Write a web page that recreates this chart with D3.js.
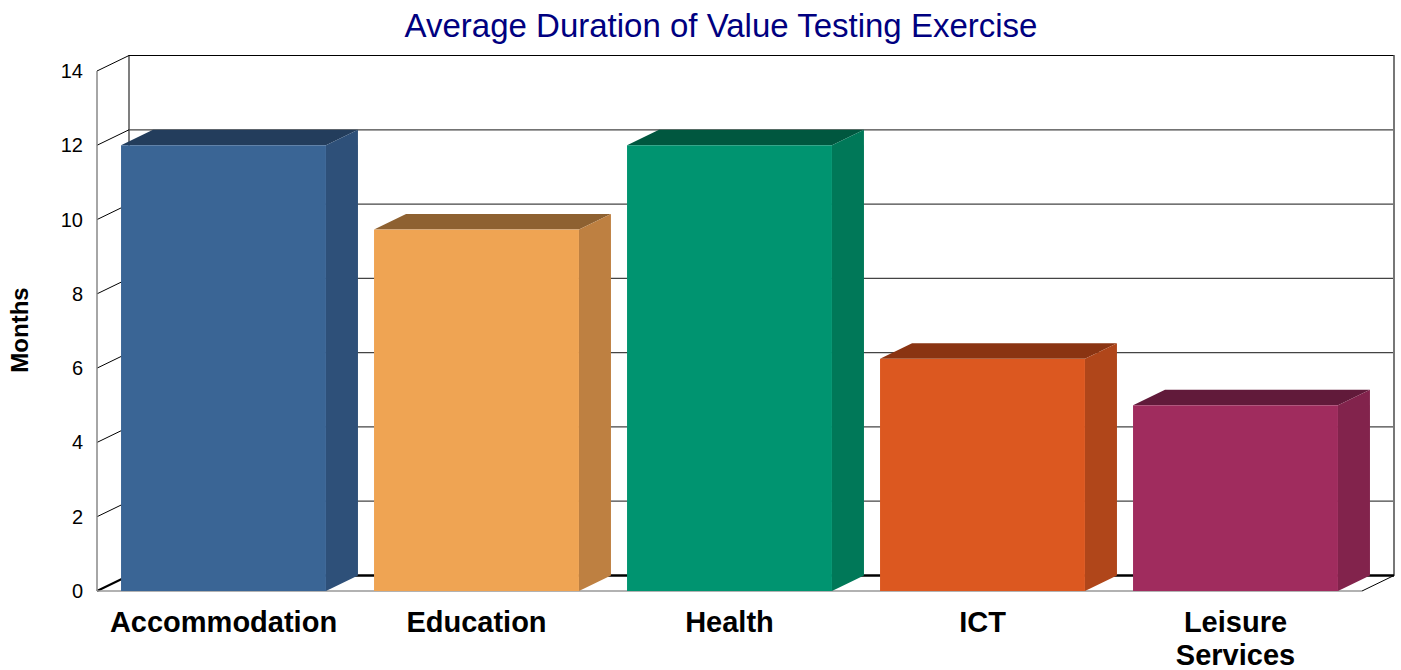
<!DOCTYPE html>
<html>
<head>
<meta charset="utf-8">
<script src="https://cdn.jsdelivr.net/npm/d3@7"></script>
<style>
  body { margin: 0; background: #fff; }
  svg { display: block; font-family: Arial, "Liberation Sans", sans-serif; }
</style>
</head>
<body>
<svg id="chart" width="1401" height="670"></svg>
<script>
// chart values
var categories = ['Accommodation', 'Education', 'Health', 'ICT', 'Leisure Services'];
var months = [12, 9.73, 12, 6.25, 5];
var yTicks = [0, 2, 4, 6, 8, 10, 12, 14];

// face colours per bar: front, top, side
var frontColors = ['#3A6595', '#EFA453', '#009470', '#DC5820', '#A02C5E'];
var topColors = ['#233D5C', '#8E6131', '#00573F', '#8A3412', '#611A3A'];
var sideColors = ['#2E5079', '#BE8041', '#007858', '#B0461A', '#82234C'];

var svg = d3.select('#chart');
var depth = {dx: 32, dy: -15.5}; // 3d offset of the back plane

var x = d3.scaleBand()
	.domain(categories)
	.range([97, 1362])
	.paddingInner(0.19)
	.paddingOuter(0.095);

var y = d3.scaleLinear()
	.domain([0, 14])
	.range([591, 71]);

var left = x.range()[0], right = x.range()[1];

// back wall
svg.append('rect')
	.attr('x', left + depth.dx)
	.attr('y', y(14) + depth.dy)
	.attr('width', right - left)
	.attr('height', y(0) - y(14))
	.style('fill', '#fff')
	.style('stroke', '#000')
	.style('stroke-width', 1);

// gridlines on back wall
svg.append('g').selectAll('line')
	.data(yTicks.filter(function(t) { return t > 0 && t < 14; }))
	.join('line')
		.attr('x1', left + depth.dx)
		.attr('x2', right + depth.dx)
		.attr('y1', function(d) { return y(d) + depth.dy; })
		.attr('y2', function(d) { return y(d) + depth.dy; })
		.style('stroke', '#444')
		.style('stroke-width', 1.3);

// right edge of back wall
svg.append('line')
	.attr('x1', right + depth.dx).attr('x2', right + depth.dx)
	.attr('y1', y(14) + depth.dy).attr('y2', y(0) + depth.dy)
	.style('stroke', '#777').style('stroke-width', 2);

// left wall: diagonals per tick and the front edge
svg.append('g').selectAll('line')
	.data(yTicks)
	.join('line')
		.attr('x1', left)
		.attr('x2', left + depth.dx)
		.attr('y1', function(d) { return y(d); })
		.attr('y2', function(d) { return y(d) + depth.dy; })
		.style('stroke', '#000')
		.style('stroke-width', function(d) { return d === 0 ? 2 : 1; });

svg.append('line')
	.attr('x1', left).attr('x2', left)
	.attr('y1', y(14)).attr('y2', y(0))
	.style('stroke', '#888').style('stroke-width', 1.5);

// floor edges
svg.append('line')
	.attr('x1', left + depth.dx).attr('x2', right + depth.dx)
	.attr('y1', y(0) + depth.dy).attr('y2', y(0) + depth.dy)
	.style('stroke', '#000').style('stroke-width', 2.5);
svg.append('line')
	.attr('x1', left).attr('x2', right)
	.attr('y1', y(0)).attr('y2', y(0))
	.style('stroke', '#999').style('stroke-width', 1.5);
svg.append('line')
	.attr('x1', right).attr('x2', right + depth.dx)
	.attr('y1', y(0)).attr('y2', y(0) + depth.dy)
	.style('stroke', '#000').style('stroke-width', 1);

// bars
var bars = svg.append('g').selectAll('g')
	.data(categories.map(function(c, i) { return {cat: c, value: months[i], i: i}; }))
	.join('g');

bars.append('path')
	.attr('d', function(d) {
		var x0 = x(d.cat), x1 = x0 + x.bandwidth(), yt = y(d.value);
		return 'M' + x0 + ',' + yt + 'L' + (x0 + depth.dx) + ',' + (yt + depth.dy) +
			'L' + (x1 + depth.dx) + ',' + (yt + depth.dy) + 'L' + x1 + ',' + yt + 'Z';
	})
	.style('fill', function(d) { return topColors[d.i]; });

bars.append('path')
	.attr('d', function(d) {
		var x1 = x(d.cat) + x.bandwidth(), yt = y(d.value), yb = y(0);
		return 'M' + x1 + ',' + yt + 'L' + (x1 + depth.dx) + ',' + (yt + depth.dy) +
			'L' + (x1 + depth.dx) + ',' + (yb + depth.dy) + 'L' + x1 + ',' + yb + 'Z';
	})
	.style('fill', function(d) { return sideColors[d.i]; });

bars.append('rect')
	.attr('x', function(d) { return x(d.cat); })
	.attr('y', function(d) { return y(d.value); })
	.attr('width', x.bandwidth())
	.attr('height', function(d) { return y(0) - y(d.value); })
	.style('fill', function(d) { return frontColors[d.i]; });

// y tick labels
svg.append('g').selectAll('text')
	.data(yTicks)
	.join('text')
		.attr('x', 83)
		.attr('y', function(d) { return y(d) + 7; })
		.attr('text-anchor', 'end')
		.attr('font-size', '20px')
		.text(function(d) { return d; });

// y axis title
svg.append('text')
	.attr('transform', 'translate(28,330) rotate(-90)')
	.attr('text-anchor', 'middle')
	.attr('font-size', '24px')
	.attr('font-weight', 'bold')
	.text('Months');

// category labels, wrapped on spaces for long names
svg.append('g').selectAll('text')
	.data(categories)
	.join('text')
		.attr('x', function(d) { return x(d) + x.bandwidth() / 2; })
		.attr('y', 632)
		.attr('text-anchor', 'middle')
		.attr('font-size', '29px')
		.attr('font-weight', 'bold')
		.each(function(d) {
			var words = d.length > 14 ? d.split(' ') : [d];
			var t = d3.select(this);
			words.forEach(function(w, k) {
				t.append('tspan')
					.attr('x', x(d) + x.bandwidth() / 2)
					.attr('dy', k === 0 ? 0 : 33)
					.text(w);
			});
		});

// title
svg.append('text')
	.attr('x', 721)
	.attr('y', 37)
	.attr('text-anchor', 'middle')
	.attr('font-size', '33px')
	.style('fill', '#000080')
	.text('Average Duration of Value Testing Exercise');
</script>
</body>
</html>
